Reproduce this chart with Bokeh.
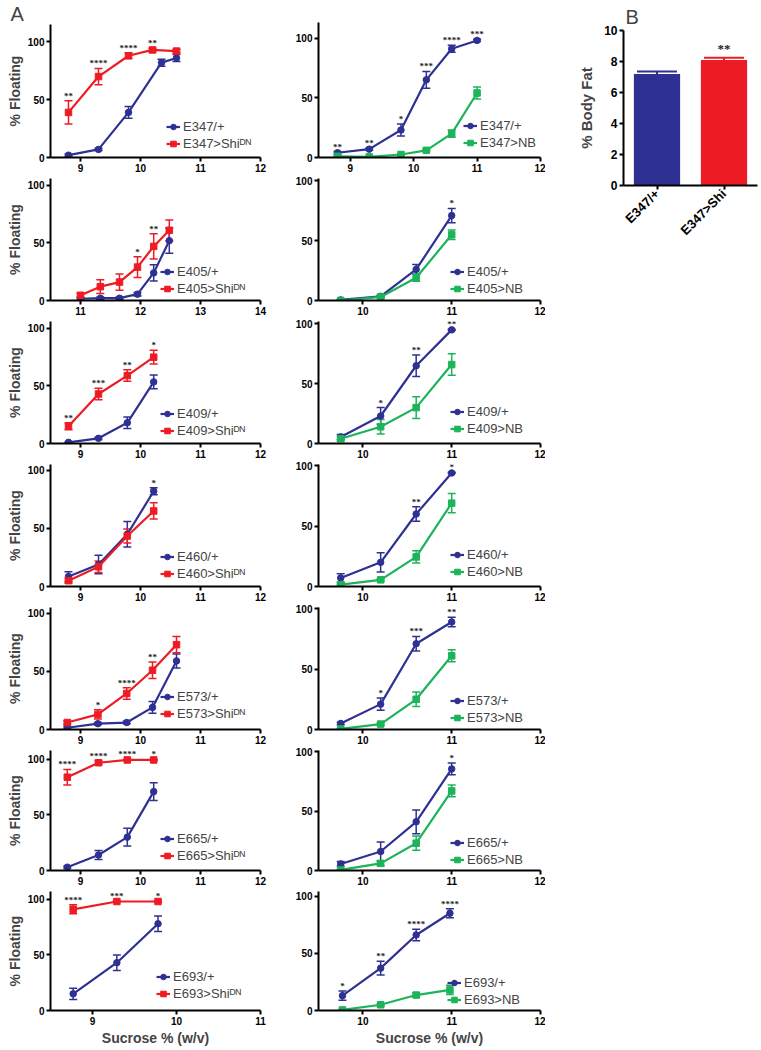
import math
from bokeh.plotting import figure
from bokeh.layouts import row, column
from bokeh.models import (Range1d, FactorRange, ColumnDataSource, Whisker, TeeHead,
                          Legend, LegendItem, LabelSet, FixedTicker)
from bokeh.embed import file_html
from bokeh.resources import INLINE

FONT = "Liberation Sans"
BLUE = "#2E3192"
RED = "#ED1C24"
GREEN = "#1DB35B"

# ---------------- data: left column (driver/+ vs driver>Shi^DN) ----------------
E347_shi_x_ctrl = [8.8, 9.3, 9.8, 10.35, 10.6]
E347_shi_x = [8.8, 9.3, 9.8, 10.2, 10.6]
E347_shi_ctrl = [2, 7, 39, 82, 86]
E347_shi_ctrl_err = [1, 1, 5, 3, 3]
E347_shi = [39, 70, 88, 93, 92]
E347_shi_err = [10, 7, 2.5, 1.5, 1.5]
E347_shi_sig = ["**", "****", "****", "**", ""]

E405_shi_x = [11.0, 11.33, 11.65, 11.95, 12.22, 12.48]
E405_shi_ctrl = [1.5, 2, 2, 5.5, 24, 52]
E405_shi_ctrl_err = [1, 1, 1, 1.5, 7, 11]
E405_shi = [4.5, 12, 16, 29, 47, 61]
E405_shi_err = [2, 6, 7, 9, 11, 9]
E405_shi_sig = ["", "", "", "*", "**", ""]

E409_shi_x = [8.8, 9.3, 9.78, 10.22]
E409_shi_ctrl = [1, 4.5, 18, 53.5]
E409_shi_ctrl_err = [0.5, 1, 5, 6]
E409_shi = [15, 43, 59, 75]
E409_shi_err = [3, 5, 5, 6]
E409_shi_sig = ["**", "***", "**", "*"]

E460_shi_x = [8.8, 9.3, 9.78, 10.22]
E460_shi_ctrl = [8.6, 19, 45, 82]
E460_shi_ctrl_err = [4, 8, 11, 3]
E460_shi = [5, 17, 43.5, 65]
E460_shi_err = [2, 5, 6, 7]
E460_shi_sig = ["", "", "", "*"]

E573_shi_x = [8.78, 9.29, 9.77, 10.2, 10.6]
E573_shi_ctrl = [1.5, 5, 6, 19, 59]
E573_shi_ctrl_err = [1, 1, 1, 5, 6]
E573_shi = [6, 13, 31, 51, 73]
E573_shi_err = [1.5, 4, 5, 7, 7]
E573_shi_sig = ["", "*", "****", "**", ""]

E665_shi_x = [8.78, 9.3, 9.78, 10.22]
E665_shi_ctrl = [3, 14, 30, 71]
E665_shi_ctrl_err = [1, 4, 8, 8]
E665_shi = [84, 97, 99.5, 99.5]
E665_shi_err = [7, 1.5, 0.5, 0.5]
E665_shi_sig = ["****", "****", "****", "*"]

E693_shi_x = [8.77, 9.29, 9.78]
E693_shi_ctrl = [15, 43, 78]
E693_shi_ctrl_err = [5, 7, 7]
E693_shi = [91, 98, 98]
E693_shi_err = [4, 0.5, 0.5]
E693_shi_sig = ["****", "***", "*"]

# ---------------- data: right column (driver/+ vs driver>NB) ----------------
E347_nb_x = [8.8, 9.3, 9.8, 10.2, 10.6, 11.0]
E347_nb_ctrl = [4, 7, 23, 65, 91, 98]
E347_nb_ctrl_err = [1, 1, 5, 7, 3, 1]
E347_nb = [1, 0.5, 2.5, 6, 20, 54]
E347_nb_err = [0.5, 0.5, 0.5, 1, 3, 5]
E347_nb_sig = ["**", "**", "*", "***", "****", "***"]

E405_nb_x = [9.75, 10.2, 10.6, 11.0]
E405_nb_ctrl = [0.5, 3.5, 26, 71]
E405_nb_ctrl_err = [0.5, 1, 4, 6]
E405_nb = [0, 3, 19, 55]
E405_nb_err = [0.5, 1, 3, 4]
E405_nb_sig = ["", "", "", "*"]

E409_nb_x = [9.75, 10.2, 10.6, 11.0]
E409_nb_ctrl = [5.5, 23, 65, 95]
E409_nb_ctrl_err = [2, 7, 9, 0.5]
E409_nb = [4, 14, 30, 66]
E409_nb_err = [2, 6, 9, 9]
E409_nb_sig = ["", "*", "**", "**"]

E460_nb_x = [9.75, 10.2, 10.6, 11.0]
E460_nb_ctrl = [7, 20, 60, 94]
E460_nb_ctrl_err = [3.5, 8, 6, 0.5]
E460_nb = [1.5, 5.5, 24.5, 69]
E460_nb_err = [0.5, 1, 5, 8]
E460_nb_sig = ["", "", "**", "*"]

E573_nb_x = [9.75, 10.2, 10.6, 11.0]
E573_nb_ctrl = [5, 21, 71, 89]
E573_nb_ctrl_err = [1, 5, 6, 4]
E573_nb = [0.5, 4.5, 25, 61]
E573_nb_err = [0.5, 1, 6, 5]
E573_nb_sig = ["", "*", "***", "**"]

E665_nb_x = [9.75, 10.2, 10.6, 11.0]
E665_nb_ctrl = [5.5, 16, 41, 85.5]
E665_nb_ctrl_err = [2, 8, 10, 5]
E665_nb = [0.5, 6, 23, 67]
E665_nb_err = [0.5, 2, 6, 5]
E665_nb_sig = ["", "", "", "*"]

E693_nb_x = [9.77, 10.2, 10.6, 10.98]
E693_nb_ctrl = [13, 37, 66, 85]
E693_nb_ctrl_err = [4, 6, 5, 4]
E693_nb = [0.5, 5, 13.5, 18]
E693_nb_err = [0.5, 1, 2, 4]
E693_nb_sig = ["*", "**", "****", "****"]

# ---------------- data: panel B ----------------
bar_labels = ["E347/+", "E347>Shi"]
bar_values = [7.2, 8.1]
bar_errors = [0.15, 0.15]
bar_sig = ["", "**"]

SUP = "\u1D30\u1D3A"  # superscript DN

left_specs = [
    ("E347", E347_shi_x_ctrl, E347_shi_ctrl, E347_shi_ctrl_err, E347_shi_x, E347_shi, E347_shi_err, E347_shi_sig, (8.5, 12), [9, 10, 11, 12]),
    ("E405", E405_shi_x, E405_shi_ctrl, E405_shi_ctrl_err, E405_shi_x, E405_shi, E405_shi_err, E405_shi_sig, (10.5, 14), [11, 12, 13, 14]),
    ("E409", E409_shi_x, E409_shi_ctrl, E409_shi_ctrl_err, E409_shi_x, E409_shi, E409_shi_err, E409_shi_sig, (8.5, 12), [9, 10, 11, 12]),
    ("E460", E460_shi_x, E460_shi_ctrl, E460_shi_ctrl_err, E460_shi_x, E460_shi, E460_shi_err, E460_shi_sig, (8.5, 12), [9, 10, 11, 12]),
    ("E573", E573_shi_x, E573_shi_ctrl, E573_shi_ctrl_err, E573_shi_x, E573_shi, E573_shi_err, E573_shi_sig, (8.5, 12), [9, 10, 11, 12]),
    ("E665", E665_shi_x, E665_shi_ctrl, E665_shi_ctrl_err, E665_shi_x, E665_shi, E665_shi_err, E665_shi_sig, (8.5, 12), [9, 10, 11, 12]),
    ("E693", E693_shi_x, E693_shi_ctrl, E693_shi_ctrl_err, E693_shi_x, E693_shi, E693_shi_err, E693_shi_sig, (8.5, 11), [9, 10, 11]),
]
right_specs = [
    ("E347", E347_nb_x, E347_nb_ctrl, E347_nb_ctrl_err, E347_nb_x, E347_nb, E347_nb_err, E347_nb_sig, (8.5, 12), [9, 10, 11, 12]),
    ("E405", E405_nb_x, E405_nb_ctrl, E405_nb_ctrl_err, E405_nb_x, E405_nb, E405_nb_err, E405_nb_sig, (9.5, 12), [10, 11, 12]),
    ("E409", E409_nb_x, E409_nb_ctrl, E409_nb_ctrl_err, E409_nb_x, E409_nb, E409_nb_err, E409_nb_sig, (9.5, 12), [10, 11, 12]),
    ("E460", E460_nb_x, E460_nb_ctrl, E460_nb_ctrl_err, E460_nb_x, E460_nb, E460_nb_err, E460_nb_sig, (9.5, 12), [10, 11, 12]),
    ("E573", E573_nb_x, E573_nb_ctrl, E573_nb_ctrl_err, E573_nb_x, E573_nb, E573_nb_err, E573_nb_sig, (9.5, 12), [10, 11, 12]),
    ("E665", E665_nb_x, E665_nb_ctrl, E665_nb_ctrl_err, E665_nb_x, E665_nb, E665_nb_err, E665_nb_sig, (9.5, 12), [10, 11, 12]),
    ("E693", E693_nb_x, E693_nb_ctrl, E693_nb_ctrl_err, E693_nb_x, E693_nb, E693_nb_err, E693_nb_sig, (9.5, 12), [10, 11, 12]),
]

# ---------------- layout constants ----------------
row_frame = [135, 122, 122, 122, 122, 120, 121]
row_top = [22, 3, 3, 3, 3, 3, 3]
row_bottom = [18, 18, 18, 18, 18, 18, 36]
left_ymax = [115, 106, 106, 105, 105, 108, 107]
right_ymax = [113, 102, 102, 101, 101, 101, 104]
left_leg = [(116, 6), (110, 4), (110, 5), (110, 5), (110, 8), (110, 7), (106, 9)]
right_leg = [(145, 7), (132, 4), (132, 7), (132, 7), (132, 4), (132, 3), (129, 3)]


def style_axes(p, xticks, yticks, tick_size="10px"):
    for ax in list(p.xaxis) + list(p.yaxis):
        ax.axis_line_width = 2
        ax.axis_line_color = "black"
        ax.major_tick_line_width = 2
        ax.major_tick_in = 0
        ax.major_tick_out = 4
        ax.minor_tick_line_color = None
        ax.major_label_text_font = FONT
        ax.major_label_text_font_style = "bold"
        ax.major_label_text_font_size = tick_size
        ax.major_label_text_color = "black"
        ax.major_label_standoff = 2
        ax.axis_label_text_font = FONT
        ax.axis_label_text_font_style = "bold"
        ax.axis_label_text_font_size = "14px"
        ax.axis_label_standoff = 2
    if xticks is not None:
        p.xaxis.ticker = FixedTicker(ticks=xticks)
    p.yaxis.ticker = FixedTicker(ticks=yticks)


def panel_title(p, text, offset):
    p.title.text = text
    p.title.align = "left"
    p.title.offset = offset
    p.title.text_font = FONT
    p.title.text_font_style = "normal"
    p.title.text_font_size = "20px"
    p.title.standoff = 0


def add_series(p, xs, ys, es, color, marker):
    src = ColumnDataSource(dict(x=xs, y=ys,
                                lo=[max(0, y - e) for y, e in zip(ys, es)],
                                hi=[y + e for y, e in zip(ys, es)]))
    p.add_layout(Whisker(source=src, base="x", lower="lo", upper="hi", dimension="height",
                         line_color=color, line_width=1.5,
                         upper_head=TeeHead(size=8, line_color=color, line_width=1.5),
                         lower_head=TeeHead(size=8, line_color=color, line_width=1.5)))
    ln = p.line("x", "y", source=src, line_color=color, line_width=2.2)
    sc = p.scatter("x", "y", source=src, marker=marker, size=6.5, fill_color=color, line_color=color)
    return [ln, sc]


def make_panel(spec, i, is_left):
    name, cx, cy, ce, ex, ey, ee, sig, xr, xt = spec
    if is_left:
        width, mbl, mbr = 290, 50, 30
        ymax = left_ymax[i]
        ecolor, emarker, elabel = RED, "square", name + ">Shi" + SUP
        leg = left_leg[i]
    else:
        width, mbl, mbr = 255, 28, 5
        ymax = right_ymax[i]
        ecolor, emarker, elabel = GREEN, "square", name + ">NB"
        leg = right_leg[i]
    height = row_top[i] + row_frame[i] + row_bottom[i]
    p = figure(width=width, height=height, x_range=Range1d(*xr), y_range=Range1d(0, ymax),
               output_backend="svg", toolbar_location=None,
               min_border_left=mbl, min_border_right=mbr,
               min_border_top=row_top[i], min_border_bottom=row_bottom[i])
    p.outline_line_color = None
    p.grid.visible = False
    style_axes(p, xt, [0, 50, 100])
    if is_left:
        p.yaxis.axis_label = "% Floating"
    if i == len(row_frame) - 1:
        p.xaxis.axis_label = "Sucrose % (w/v)"

    rc = add_series(p, cx, cy, ce, BLUE, "circle")
    re_ = add_series(p, ex, ey, ee, ecolor, emarker)

    sx, sy = [], []
    for k in range(len(sig)):
        tc = cy[k] + ce[k]
        te = ey[k] + ee[k]
        if te >= tc:
            sx.append(ex[k]); sy.append(te)
        else:
            sx.append(cx[k]); sy.append(tc)
    ssrc = ColumnDataSource(dict(x=sx, y=sy, t=sig))
    p.add_layout(LabelSet(x="x", y="y", text="t", source=ssrc, text_align="center",
                          text_baseline="bottom", text_font=FONT, text_font_style="bold",
                          text_font_size="9px", y_offset=0, text_color="#222222"))

    legend = Legend(items=[LegendItem(label=name + "/+", renderers=rc),
                           LegendItem(label=elabel, renderers=re_)],
                    location=leg, orientation="vertical",
                    border_line_color=None, background_fill_alpha=0,
                    label_text_font=FONT, label_text_font_size="13px",
                    glyph_width=14, glyph_height=15, label_height=15,
                    label_standoff=3, spacing=2, padding=0, margin=0)
    p.add_layout(legend)

    if is_left and i == 0:
        panel_title(p, "A", -40)
    return p


left_figs = [make_panel(s, i, True) for i, s in enumerate(left_specs)]
right_figs = [make_panel(s, i, False) for i, s in enumerate(right_specs)]

# ---------------- panel B ----------------
bp = figure(width=214, height=246, x_range=FactorRange(*bar_labels, range_padding=0),
            y_range=Range1d(0, 10), output_backend="svg", toolbar_location=None,
            min_border_left=78, min_border_right=2, min_border_top=30, min_border_bottom=52)
bp.outline_line_color = None
bp.grid.visible = False
style_axes(bp, None, [0, 2, 4, 6, 8, 10], tick_size="12px")
bp.xaxis.major_label_text_font_size = "13px"
bp.xaxis.major_label_orientation = math.pi / 4
bp.yaxis.axis_label = "% Body Fat"
bp.yaxis.axis_label_text_font_size = "15px"
bp.yaxis.axis_label_standoff = 6
panel_title(bp, "B", 2)
bp.title.standoff = 6
bsrc = ColumnDataSource(dict(x=bar_labels, top=bar_values,
                             hi=[v + e for v, e in zip(bar_values, bar_errors)],
                             color=[BLUE, RED], sig=bar_sig))
bp.add_layout(Whisker(source=bsrc, base="x", lower="top", upper="hi", dimension="height",
                      line_color="color", line_width=2,
                      upper_head=TeeHead(size=40, line_color="color", line_width=2),
                      lower_head=None))
bp.vbar(x="x", top="top", width=0.69, source=bsrc, fill_color="color", line_color=None)
bp.add_layout(LabelSet(x="x", y="hi", text="sig", source=bsrc, text_align="center",
                       text_baseline="bottom", text_font=FONT, text_font_style="bold",
                       text_font_size="13px", y_offset=2, text_color="#222222"))

layout = row(column(*left_figs), column(*right_figs), column(bp))

open("out.html", "w").write(file_html(layout, INLINE))
